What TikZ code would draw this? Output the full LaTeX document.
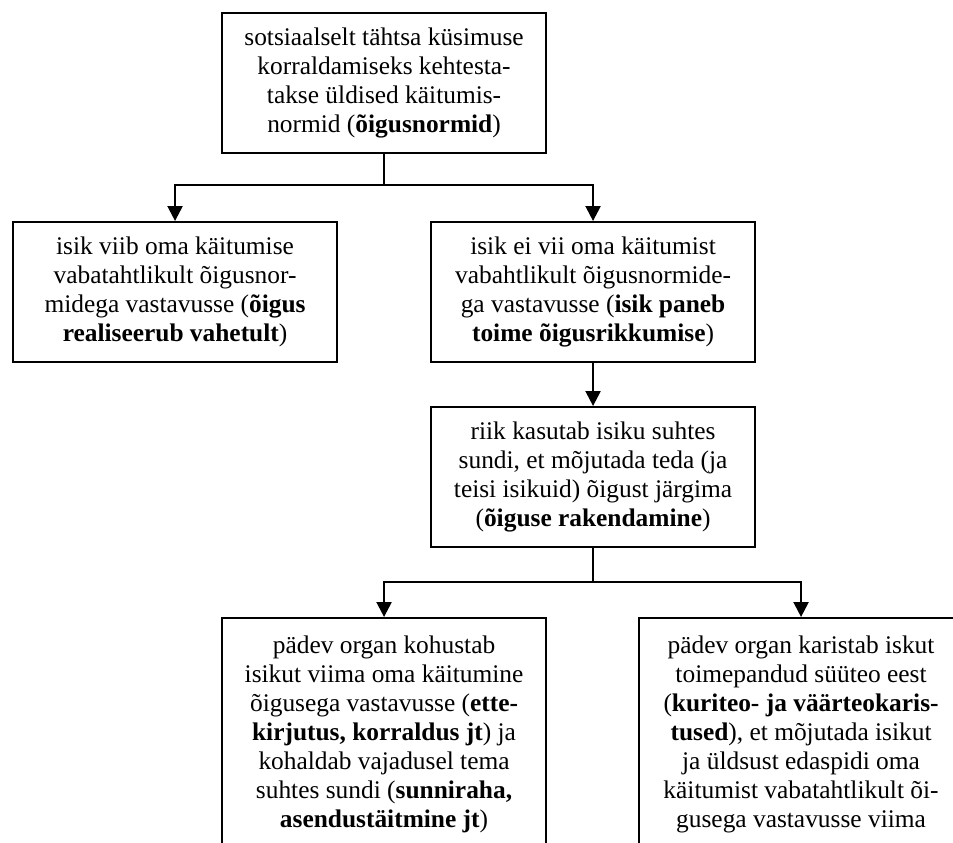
\documentclass[tikz,border=0pt]{standalone}
\usepackage{fontspec}
\setmainfont{Liberation Serif}
\usetikzlibrary{arrows.meta}
\begin{document}
\begin{tikzpicture}[x=1pt,y=-1pt,
  box/.style={draw=black,line width=2.1pt,minimum width=324pt,minimum height=140pt,
    anchor=north west,align=center,inner sep=0pt,
    font=\fontsize{25.4}{29}\selectfont},
  tallbox/.style={box,minimum height=232pt},
  link/.style={line width=2.3pt},
  arr/.style={link,-{Triangle[width=15pt,length=15pt]}}]
\useasboundingbox (0,0) rectangle (953,843);
\clip (0,0) rectangle (953,843);

% top: the norm is set
\node[box] (top) at (221,12) {sotsiaalselt tähtsa küsimuse\\
  korraldamiseks kehtesta-\\ takse üldised käitumis-\\
  normid (\textbf{õigusnormid})};

% second row: voluntary compliance vs. violation
\node[box] (comply) at (12,221) {isik viib oma käitumise\\
  vabatahtlikult õigusnor-\\ midega vastavusse (\textbf{õigus}\\
  \textbf{realiseerub vahetult})};
\node[box] (violate) at (430,221) {isik ei vii oma käitumist\\
  vabahtlikult õigusnormide-\\ ga vastavusse (\textbf{isik paneb}\\
  \textbf{toime õigusrikkumise})};

% application of law
\node[box] (apply) at (430,406) {riik kasutab isiku suhtes\\
  sundi, et mõjutada teda (ja\\ teisi isikuid) õigust järgima\\
  (\textbf{õiguse rakendamine})};

% bottom row: enforcement vs. punishment
\node[tallbox] (enforce) at (221,617) {pädev organ kohustab\\
  isikut viima oma käitumine\\ õigusega vastavusse (\textbf{ette-}\\
  \textbf{kirjutus, korraldus jt}) ja\\ kohaldab vajadusel tema\\
  suhtes sundi (\textbf{sunniraha,}\\ \textbf{asendustäitmine jt})};
\node[tallbox] (punish) at (638,617) {pädev organ karistab iskut\\
  toimepandud süüteo eest\\ (\textbf{kuriteo- ja väärteokaris-}\\
  \textbf{tused}), et mõjutada isikut\\ ja üldsust edaspidi oma\\
  käitumist vabatahtlikult õi-\\ gusega vastavusse viima};

% junctions of the forks
\coordinate (fork1) at (top.south |- 0,185);
\coordinate (fork2) at (apply.south |- 0,582);

\draw[link] (top.south) -- (fork1);
\draw[arr] (fork1) -| (comply.north);
\draw[arr] (fork1) -| (violate.north);
\draw[arr] (violate.south) -- (apply.north);
\draw[link] (apply.south) -- (fork2);
\draw[arr] (fork2) -| (enforce.north);
\draw[arr] (fork2) -| (punish.north);
\end{tikzpicture}
\end{document}
